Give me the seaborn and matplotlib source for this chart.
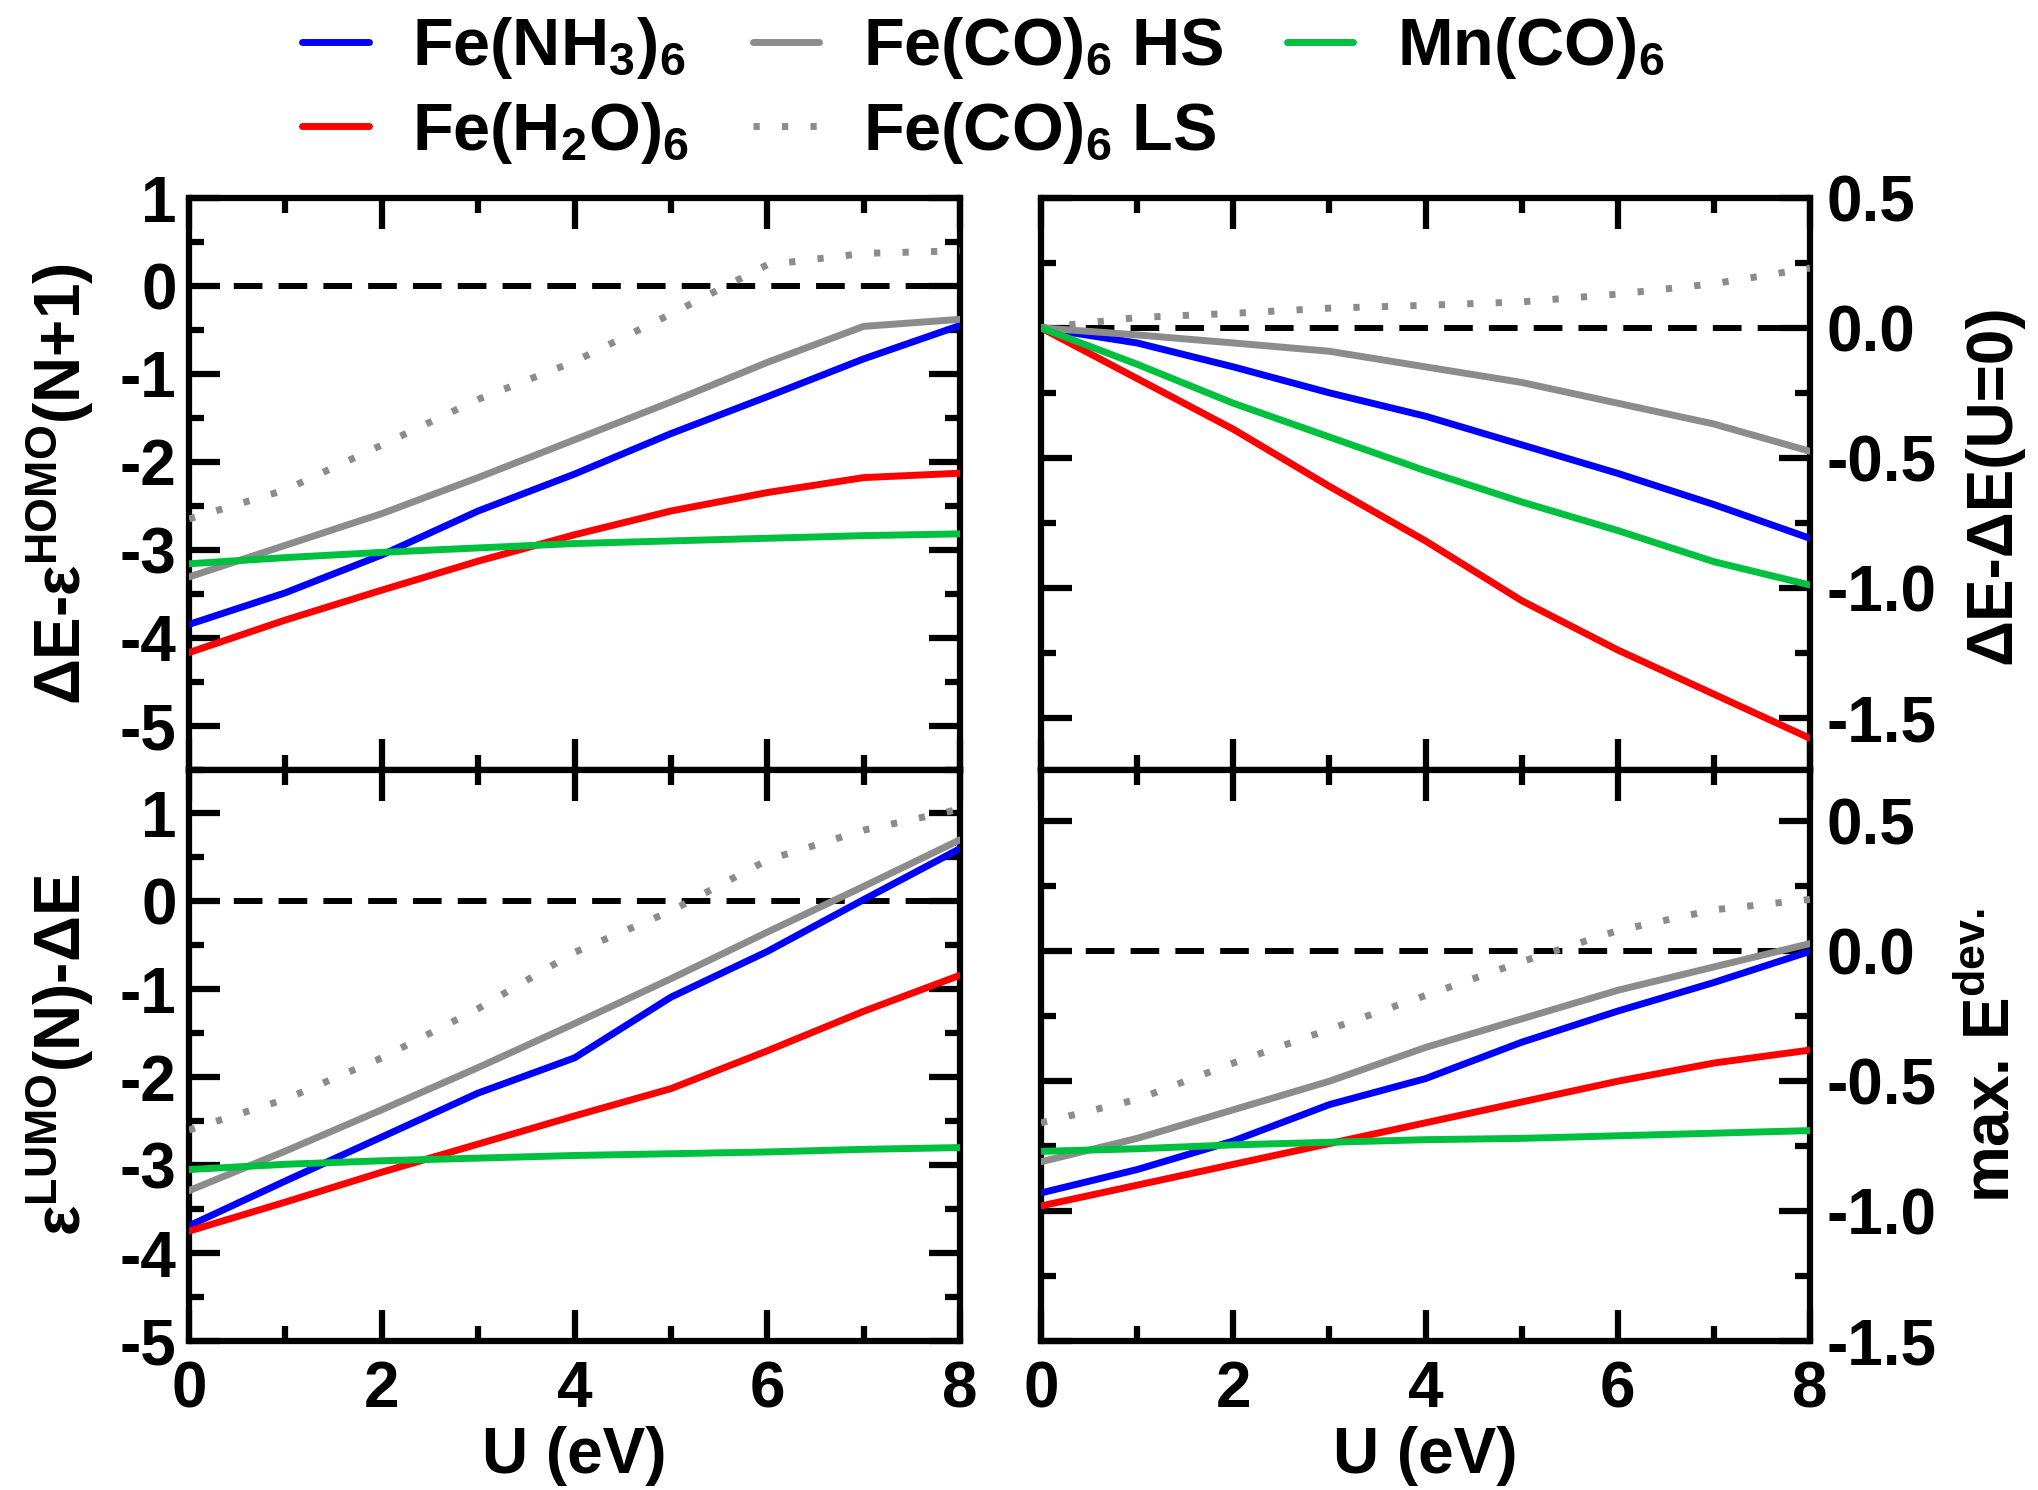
import numpy as np
import pandas as pd
import matplotlib
matplotlib.use("Agg")
import matplotlib.pyplot as plt
import seaborn as sns
from matplotlib.ticker import MultipleLocator, FormatStrFormatter

# ---------------- data ----------------
U = [0, 1, 2, 3, 4, 5, 6, 7, 8]

labels = [r"Fe(NH$_3$)$_6$", r"Fe(H$_2$O)$_6$", r"Fe(CO)$_6$ HS", r"Fe(CO)$_6$ LS", r"Mn(CO)$_6$"]

# top-left: dE - eps_HOMO(N+1)
tl_nh3 = [-3.85, -3.49, -3.06, -2.56, -2.14, -1.68, -1.26, -0.83, -0.45]
tl_h2o = [-4.17, -3.80, -3.46, -3.13, -2.83, -2.56, -2.35, -2.18, -2.13]
tl_hs = [-3.31, -2.95, -2.59, -2.18, -1.75, -1.32, -0.87, -0.46, -0.38]
tl_ls = [-2.65, -2.32, -1.81, -1.29, -0.86, -0.32, 0.24, 0.37, 0.40]
tl_mn = [-3.16, -3.09, -3.03, -2.98, -2.93, -2.90, -2.87, -2.84, -2.82]

# top-right: dE - dE(U=0)
tr_nh3 = [0.0, -0.058, -0.15, -0.25, -0.34, -0.45, -0.56, -0.68, -0.81]
tr_h2o = [0.0, -0.195, -0.39, -0.61, -0.82, -1.05, -1.24, -1.41, -1.58]
tr_hs = [0.0, -0.027, -0.058, -0.09, -0.15, -0.21, -0.29, -0.37, -0.475]
tr_ls = [0.0, 0.04, 0.056, 0.076, 0.087, 0.10, 0.13, 0.17, 0.23]
tr_mn = [0.0, -0.14, -0.29, -0.42, -0.55, -0.67, -0.78, -0.90, -0.99]

# bottom-left: eps_LUMO(N) - dE
bl_nh3 = [-3.69, -3.18, -2.68, -2.18, -1.78, -1.09, -0.57, 0.02, 0.60]
bl_h2o = [-3.75, -3.42, -3.08, -2.76, -2.44, -2.13, -1.70, -1.25, -0.84]
bl_hs = [-3.29, -2.84, -2.37, -1.89, -1.39, -0.88, -0.35, 0.17, 0.70]
bl_ls = [-2.60, -2.25, -1.78, -1.22, -0.58, -0.11, 0.47, 0.81, 1.05]
bl_mn = [-3.05, -2.99, -2.95, -2.92, -2.89, -2.87, -2.85, -2.82, -2.80]

# bottom-right: max. E_dev
br_nh3 = [-0.93, -0.84, -0.73, -0.59, -0.49, -0.35, -0.23, -0.12, 0.0]
br_h2o = [-0.98, -0.90, -0.82, -0.74, -0.66, -0.58, -0.50, -0.43, -0.38]
br_hs = [-0.81, -0.72, -0.61, -0.50, -0.37, -0.26, -0.15, -0.06, 0.03]
br_ls = [-0.66, -0.57, -0.43, -0.30, -0.17, -0.04, 0.08, 0.16, 0.20]
br_mn = [-0.77, -0.76, -0.745, -0.735, -0.725, -0.72, -0.71, -0.70, -0.69]

# ---------------- style ----------------
sns.set_theme(style="ticks")
plt.rcParams["font.family"] = ["Liberation Sans", "DejaVu Sans"]
plt.rcParams["font.weight"] = "bold"
plt.rcParams["text.color"] = "black"
plt.rcParams["axes.labelcolor"] = "black"
plt.rcParams["xtick.color"] = "black"
plt.rcParams["ytick.color"] = "black"
plt.rcParams["axes.unicode_minus"] = False
plt.rcParams["mathtext.fontset"] = "custom"
plt.rcParams["mathtext.rm"] = "Liberation Sans:bold"
plt.rcParams["mathtext.it"] = "Liberation Sans:bold"
plt.rcParams["mathtext.bf"] = "Liberation Sans:bold"
plt.rcParams["mathtext.sf"] = "Liberation Sans:bold"
plt.rcParams["mathtext.default"] = "rm"

colors = ["#0000FF", "#FF0000", "#8C8C8C", "#8C8C8C", "#00C040"]
styles = ["-", "-", "-", (0, (0.9, 3.2)), "-"]
FS = 46
LW = 5.0

fig = plt.figure(figsize=(20.38, 14.90), dpi=100)
lx0, rx0, w = 189 / 2038, 1041 / 2038, 771 / 2038
ty0, by0, h = 1 - 769.5 / 1490, 1 - 1341 / 1490, 571.5 / 1490
ax_tl = fig.add_axes([lx0, ty0, w, h])
ax_tr = fig.add_axes([rx0, ty0, 769 / 2038, h])
ax_bl = fig.add_axes([lx0, by0, w, h])
ax_br = fig.add_axes([rx0, by0, 769 / 2038, h])

panels = [
    (ax_tl, [tl_nh3, tl_h2o, tl_hs, tl_ls, tl_mn], (-5.5, 1.0), 1.0, 0.5, "%d"),
    (ax_tr, [tr_nh3, tr_h2o, tr_hs, tr_ls, tr_mn], (-1.7, 0.5), 0.5, 0.25, "%.1f"),
    (ax_bl, [bl_nh3, bl_h2o, bl_hs, bl_ls, bl_mn], (-5.0, 1.5), 1.0, 0.5, "%d"),
    (ax_br, [br_nh3, br_h2o, br_hs, br_ls, br_mn], (-1.5, 0.7), 0.5, 0.25, "%.1f"),
]

for ax, series, ylim, maj, mnr, fmt in panels:
    ax.axhline(0, color="black", lw=4.3, dashes=(4.8, 2.7), zorder=1)
    for vals, c, ls, lab in zip(series, colors, styles, labels):
        sns.lineplot(x=U, y=vals, ax=ax, color=c, linestyle=ls, lw=LW,
                     label=lab, legend=False, zorder=3)
    ax.set_xlim(0, 8)
    ax.set_ylim(*ylim)
    ax.xaxis.set_major_locator(MultipleLocator(2))
    ax.xaxis.set_minor_locator(MultipleLocator(1))
    ax.yaxis.set_major_locator(MultipleLocator(maj))
    ax.yaxis.set_minor_locator(MultipleLocator(mnr))
    ax.yaxis.set_major_formatter(FormatStrFormatter(fmt))
    for sp in ax.spines.values():
        sp.set_linewidth(4.5)
        sp.set_color("black")
        sp.set_visible(True)
    ax.tick_params(which="both", direction="in", top=True, bottom=True,
                   left=True, right=True, width=4.5, color="black",
                   labelsize=FS)
    ax.tick_params(which="major", length=22, pad=9)
    ax.tick_params(which="minor", length=11)
    ax.set_xlabel("")
    ax.set_ylabel("")

for ax in (ax_tl, ax_tr):
    ax.tick_params(axis="x", labelbottom=False)
for ax in (ax_bl, ax_br):
    ax.tick_params(axis="x", pad=14)
    ax.set_xlabel("U (eV)", fontsize=FS, fontweight="bold", labelpad=4)
for ax in (ax_tr, ax_br):
    ax.tick_params(axis="y", labelleft=False, labelright=True, pad=12)
    ax.yaxis.set_label_position("right")

ax_tl.set_ylabel(r"ΔE-ε$^{HOMO}$(N+1)", fontsize=FS, fontweight="bold")
ax_tl.yaxis.set_label_coords(-0.12, 0.5)
ax_bl.set_ylabel(r"ε$^{LUMO}$(N)-ΔE", fontsize=FS, fontweight="bold")
ax_bl.yaxis.set_label_coords(-0.12, 0.5)
ax_tr.set_ylabel("ΔE-ΔE(U=0)", fontsize=FS, fontweight="bold", rotation=90)
ax_tr.yaxis.set_label_coords(1.20, 0.5)
ax_br.set_ylabel(r"max. E$^{dev.}$", fontsize=FS, fontweight="bold", rotation=90)
ax_br.yaxis.set_label_coords(1.198, 0.5)

handles = ax_tl.get_lines()[1:6]
fig.legend(handles, labels, ncol=3, loc="upper left",
           bbox_to_anchor=(302 / 2038, 0.990), frameon=False,
           prop={"size": 48, "weight": "bold"}, handlelength=1.0,
           handletextpad=0.65, columnspacing=0.95, labelspacing=0.28,
           borderpad=0, borderaxespad=0)

fig.savefig("out.png", dpi=100)
